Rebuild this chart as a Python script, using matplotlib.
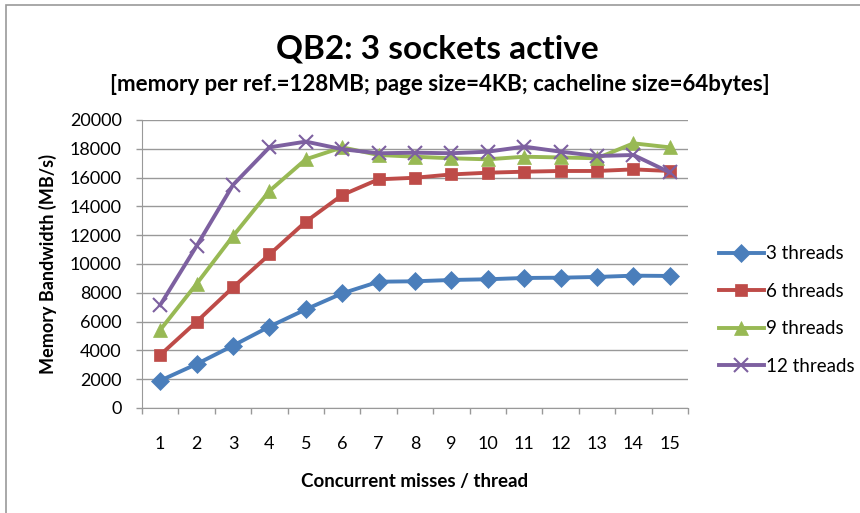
import numpy as np
import matplotlib.pyplot as plt
from matplotlib.patches import Rectangle

misses = list(range(1, 16))
bw_3 = [1900, 3050, 4330, 5650, 6850, 7960, 8770, 8800, 8890, 8940, 9030, 9050, 9100, 9190, 9170]
bw_6 = [3680, 5990, 8380, 10660, 12940, 14790, 15880, 15990, 16220, 16340, 16410, 16460, 16460, 16570, 16460]
bw_9 = [5420, 8620, 11940, 15070, 17270, 18100, 17570, 17450, 17340, 17270, 17450, 17400, 17340, 18380, 18100]
bw_12 = [7150, 11250, 15490, 18100, 18500, 17970, 17690, 17730, 17690, 17800, 18150, 17800, 17500, 17570, 16360]

plt.rcParams['font.family'] = ['Lato', 'DejaVu Sans']

fig = plt.figure(figsize=(8.6, 5.13), dpi=100)
fig.patches.append(Rectangle((6/860, -0.1), 1.2, (508/513) + 0.1, transform=fig.transFigure,
                             fill=False, edgecolor='#999999', linewidth=1.2))

ax = fig.add_axes([142/860, 105/513, 546/860, 288/513])

series = [
    (bw_3, '3 threads', '#4A7EBB', 'D', 9),
    (bw_6, '6 threads', '#BE4B48', 's', 9),
    (bw_9, '9 threads', '#98B954', '^', 10),
    (bw_12, '12 threads', '#7D60A0', 'x', 10),
]
for vals, name, col, mk, ms in series:
    ax.plot(misses, vals, color=col, lw=2.8, marker=mk, markersize=ms,
            markeredgewidth=1.5 if mk == 'x' else 0.5, markeredgecolor=col, label=name)

ax.set_xlim(0.5, 15.5)
ax.set_ylim(0, 20000)
ax.set_yticks(np.arange(0, 20001, 2000))
ax.set_xticks(np.arange(0.5, 15.6, 1))
ax.set_xticklabels([])
ax.set_xticks(misses, minor=True)
ax.set_xticklabels([str(m) for m in misses], minor=True)
ax.tick_params(axis='x', which='minor', length=0, pad=20, labelsize=13)
ax.tick_params(axis='x', which='major', length=4.5, color='#999999', width=1)
ax.tick_params(axis='y', length=4.5, color='#999999', width=1, labelsize=13, pad=10)
ax.grid(axis='y', color='#999999', lw=1)
ax.set_axisbelow(True)
for s in ['top', 'right']:
    ax.spines[s].set_visible(False)
for s in ['left', 'bottom']:
    ax.spines[s].set_color('#999999')

ax.set_xlabel('Concurrent misses / thread', fontsize=13.5, fontweight='bold', labelpad=15)
ax.set_ylabel('Memory Bandwidth (MB/s)', fontsize=13, fontweight='bold', labelpad=9)

fig.text(0.508, 0.905, 'QB2: 3 sockets active', ha='center', va='center', fontsize=24, fontweight='bold')
fig.text(0.511, 0.835, '[memory per ref.=128MB; page size=4KB; cacheline size=64bytes]',
         ha='center', va='center', fontsize=16, fontweight='bold')

ax.legend(loc='center left', bbox_to_anchor=(1.025, 0.34), frameon=False, fontsize=13.5,
          handlelength=2.4, labelspacing=1.1, handletextpad=0.15)

fig.savefig('out.png', dpi=100)
